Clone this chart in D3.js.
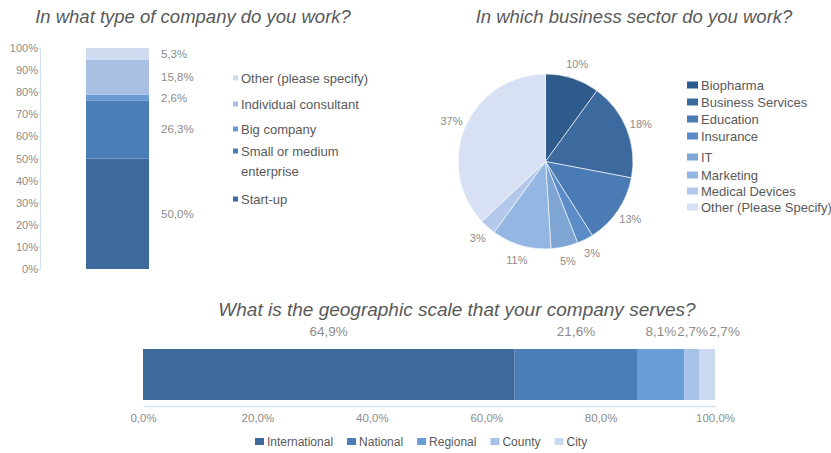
<!DOCTYPE html>
<html>
<head>
<meta charset="utf-8">
<script src="https://cdn.jsdelivr.net/npm/d3@7"></script>
<style>
  html, body { margin: 0; padding: 0; background: #fff; }
  svg { display: block; font-family: "Liberation Sans", Arial, sans-serif; }
</style>
</head>
<body>
<svg id="chart" width="831" height="453"></svg>
<script>
// Company type (stacked column, bottom to top)
const companyTypes = ["Start-up", "Small or medium enterprise", "Big company", "Individual consultant", "Other (please specify)"];
const companyShares = [50.0, 26.3, 2.6, 15.8, 5.3];
const companyColors = ["#3d6a9c", "#4a7eb7", "#6a9bd3", "#a7c0e3", "#cfdbf0"];
const companyTicks = [0, 10, 20, 30, 40, 50, 60, 70, 80, 90, 100];

// Business sector (pie, clockwise from 12 o'clock)
const sectors = ["Biopharma", "Business Services", "Education", "Insurance", "IT", "Marketing", "Medical Devices", "Other (Please Specify)"];
const sectorShares = [10, 18, 13, 3, 5, 11, 3, 37];
const sectorColors = ["#2f5a8c", "#3c6a9f", "#4a7bb4", "#5a8dc8", "#7fa5d5", "#94b6e2", "#b3c8ea", "#d7e1f3"];

// Geographic scale (stacked horizontal bar)
const scales = ["International", "National", "Regional", "County", "City"];
const scaleShares = [64.9, 21.6, 8.1, 2.7, 2.7];
const scaleColors = ["#3d6a9b", "#4b7eb6", "#6a9ed6", "#a8c1e6", "#cad8f1"];
const scaleTicks = [0, 20, 40, 60, 80, 100];

const svg = d3.select("#chart");
const titleColor = "#595959";
const labelColor = "#8c8c8c";
const textColor = "#595959";
const axisColor = "#d3e2f2";
const comma = v => d3.format(".1f")(v).replace(".", ",");

function title(x, y, text, size) {
  svg.append("text").attr("x", x).attr("y", y)
    .attr("text-anchor", "middle").attr("font-style", "italic")
    .attr("font-size", size).attr("fill", titleColor).text(text);
}

/* ---------- Company type ---------- */
title(193, 23, "In what type of company do you work?", 18.5);
{
  const y = d3.scaleLinear().domain([0, 100]).range([269, 48]);
  const bx0 = 86, bx1 = 149;
  const ax = svg.append("g").attr("transform", "translate(40,0)")
    .call(d3.axisLeft(y).tickValues(companyTicks).tickSize(3).tickFormat(d => d + "%"));
  ax.select(".domain").attr("stroke", axisColor);
  ax.selectAll(".tick line").attr("stroke", axisColor);
  ax.selectAll(".tick text").attr("fill", labelColor).attr("font-size", 11)
    .attr("font-family", "Liberation Sans, Arial, sans-serif").attr("x", -2);

  let acc = 0;
  const stack = companyShares.map((v, i) => { const s = { v, i, y0: acc, y1: acc + v }; acc += v; return s; });
  svg.append("g").selectAll("rect").data(stack).join("rect")
    .attr("x", bx0).attr("width", bx1 - bx0)
    .attr("y", d => y(d.y1)).attr("height", d => y(d.y0) - y(d.y1))
    .attr("fill", d => companyColors[d.i]);
  svg.append("g").selectAll("text").data(stack).join("text")
    .attr("x", 161).attr("y", d => y((d.y0 + d.y1) / 2)).attr("dy", "0.35em")
    .attr("font-size", 11.5).attr("fill", labelColor)
    .text(d => comma(d.v) + "%");

  // Legend, listed top to bottom in reverse stack order
  const rows = [
    { i: 4, lines: ["Other (please specify)"], y: 78 },
    { i: 3, lines: ["Individual consultant"], y: 104 },
    { i: 2, lines: ["Big company"], y: 129 },
    { i: 1, lines: ["Small or medium", "enterprise"], y: 151 },
    { i: 0, lines: ["Start-up"], y: 199 }
  ];
  const lg = svg.append("g");
  rows.forEach(r => {
    lg.append("rect").attr("x", 233).attr("y", r.y - 2.5).attr("width", 5).attr("height", 5)
      .attr("fill", companyColors[r.i]);
    const t = lg.append("text").attr("x", 241).attr("y", r.y)
      .attr("font-size", 13).attr("fill", textColor);
    r.lines.forEach((ln, k) => t.append("tspan").attr("x", 241).attr("dy", k === 0 ? "0.35em" : "1.6em").text(ln));
  });
}

/* ---------- Business sector ---------- */
title(634, 23, "In which business sector do you work?", 18.5);
{
  const cx = 545.5, cy = 161.5, r = 87.5;
  const pie = d3.pie().sort(null).value(d => d)(sectorShares);
  const arc = d3.arc().innerRadius(0).outerRadius(r);
  const labelArc = d3.arc().innerRadius(r + 15).outerRadius(r + 15);
  const g = svg.append("g").attr("transform", `translate(${cx},${cy})`);
  g.selectAll("path").data(pie).join("path")
    .attr("d", arc).attr("fill", (d, i) => sectorColors[i])
    .attr("stroke", "#fff").attr("stroke-width", 0.6);
  g.selectAll("text").data(pie).join("text")
    .attr("transform", d => `translate(${labelArc.centroid(d)})`)
    .attr("text-anchor", "middle").attr("dy", "0.35em")
    .attr("font-size", 11).attr("fill", labelColor)
    .text(d => d.data + "%");

  const rowsY = [85, 102, 119, 136, 157, 175, 191, 207];
  const lg = svg.append("g");
  sectors.forEach((s, i) => {
    lg.append("rect").attr("x", 687).attr("y", rowsY[i] - 3.5).attr("width", 11).attr("height", 7)
      .attr("fill", sectorColors[i]);
    lg.append("text").attr("x", 701).attr("y", rowsY[i]).attr("dy", "0.35em")
      .attr("font-size", 13).attr("fill", textColor).text(s);
  });
}

/* ---------- Geographic scale ---------- */
title(457, 316, "What is the geographic scale that your company serves?", 19);
{
  const x = d3.scaleLinear().domain([0, 100]).range([143, 715]);
  const by0 = 349, by1 = 400;
  let acc = 0;
  const stack = scaleShares.map((v, i) => { const s = { v, i, x0: acc, x1: acc + v }; acc += v; return s; });
  svg.append("g").selectAll("rect").data(stack).join("rect")
    .attr("x", d => x(d.x0)).attr("width", d => x(d.x1) - x(d.x0))
    .attr("y", by0).attr("height", by1 - by0)
    .attr("fill", d => scaleColors[d.i]);

  // Value labels above segments, nudged right so neighbours don't collide
  const lt = svg.append("g").selectAll("text").data(stack).join("text")
    .attr("y", 336).attr("text-anchor", "middle")
    .attr("font-size", 13.5).attr("fill", labelColor)
    .text(d => comma(d.v) + "%");
  let prevRight = -Infinity;
  lt.each(function (d) {
    const w = this.getComputedTextLength();
    let c = x((d.x0 + d.x1) / 2);
    if (c - w / 2 < prevRight + 1) c = prevRight + 1 + w / 2;
    prevRight = c + w / 2;
    d3.select(this).attr("x", c);
  });

  const ax = svg.append("g").attr("transform", "translate(0,406)")
    .call(d3.axisBottom(x).tickValues(scaleTicks).tickSize(0).tickPadding(8).tickFormat(d => comma(d) + "%"));
  ax.select(".domain").attr("stroke", axisColor).attr("stroke-width", 1.5);
  ax.selectAll(".tick text").attr("fill", labelColor).attr("font-size", 11.5)
    .attr("font-family", "Liberation Sans, Arial, sans-serif");

  // Legend row
  const lg = svg.append("g");
  let lx = 255;
  scales.forEach((s, i) => {
    lg.append("rect").attr("x", lx).attr("y", 438).attr("width", 9).attr("height", 7).attr("fill", scaleColors[i]);
    const t = lg.append("text").attr("x", lx + 12).attr("y", 441.5).attr("dy", "0.35em")
      .attr("font-size", 12).attr("fill", textColor).text(s);
    lx += 12 + t.node().getComputedTextLength() + 14;
  });
}
</script>
</body>
</html>
